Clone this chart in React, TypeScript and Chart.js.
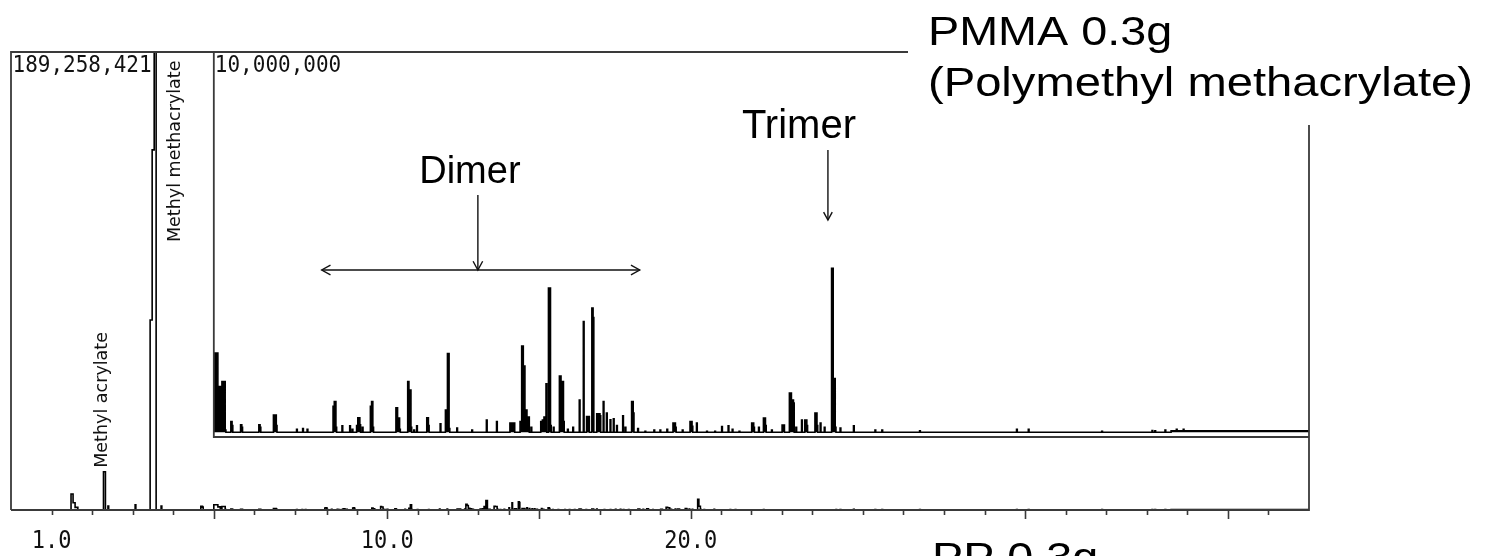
import React, { useEffect, useRef } from "react";
import { Chart, registerables } from "chart.js";

Chart.register(...registerables);

// ---------- data ----------
const FULL_SCALE = 189258421; // outer trace full scale (counts)
const INSET_SCALE = 10000000; // expanded trace full scale (counts)
const TIME_MIN = 0;
const TIME_MAX = 32;
const INSET_START = 5.0; // expanded view starts at 5.0 min

// the middle part of the bottom axis is a second, compressed time axis
const STRIP_AXIS_MIN = -2.403;
const STRIP_AXIS_MAX = 40.38;
const STRIP_FROM = 7.1; // min on the compressed axis
const STRIP_TO = 24.9;
const MAIN_LEFT_END = 7.1; // min on the main axis
const MAIN_RIGHT_START = 20.42;

// retention time (min) of every peak apex
const peakTimes = [
  1.48, 1.53, 1.58, 1.63, 2.28, 2.31, 2.39, 3.06, 3.43, 3.48, 3.53, 3.56, 3.7, 4.68, 4.72,
  5.0, 5.03, 5.06, 5.1, 5.13, 5.16, 5.2, 5.23, 5.28, 5.42, 5.45, 5.66, 5.69, 6.11, 6.14,
  6.47, 6.51, 6.54, 7.04, 7.19, 7.3, 7.94, 7.97, 8.01, 8.16, 8.35, 8.41, 8.52, 8.55, 8.6,
  8.66, 8.86, 8.89, 8.92, 9.49, 9.53, 9.58, 9.78, 9.81, 9.86, 9.93, 10.0, 10.25, 10.29,
  10.58, 10.71, 10.76, 10.8, 10.99, 11.36, 11.72, 11.97, 12.3, 12.35, 12.4, 12.55, 12.59,
  12.63, 12.67, 12.72, 12.76, 12.82, 13.06, 13.1, 13.14, 13.19, 13.25, 13.3, 13.37, 13.52,
  13.56, 13.62, 13.72, 13.85, 14.01, 14.11, 14.19, 14.24, 14.32, 14.35, 14.44, 14.48,
  14.52, 14.6, 14.68, 14.77, 14.85, 14.93, 15.08, 15.14, 15.3, 15.34, 15.45, 15.63, 15.85,
  16.0, 16.17, 16.32, 16.38, 16.55, 16.74, 16.79, 16.9, 17.15, 17.35, 17.52, 17.68, 17.78,
  17.95, 18.26, 18.31, 18.43, 18.55, 18.6, 18.75, 19.01, 19.05, 19.19, 19.24, 19.29,
  19.35, 19.49, 19.57, 19.62, 19.82, 19.87, 19.95, 20.05, 20.23, 20.27, 20.32, 20.44,
  20.77, 21.3, 21.47, 22.4, 24.79, 25.08, 26.89, 28.13, 28.2, 28.45, 28.73, 28.9,
];

// intensity (counts) at each apex
const peakCounts = [
  6600000, 3000000, 1100000, 1100000, 15800000, 15800000, 1600000, 2100000, 78500000,
  148800000, 189258421, 189258421, 1650000, 1500000, 1200000,
  2180000, 2180000, 2180000, 1310000, 1310000, 270000, 1440000, 1440000, 180000, 400000,
  300000, 320000, 250000, 320000, 250000, 570000, 570000, 300000, 200000, 220000, 200000,
  800000, 920000, 250000, 290000, 290000, 200000, 300000, 500000, 320000, 250000, 800000,
  920000, 250000, 760000, 490000, 200000, 1440000, 1220000, 250000, 180000, 290000, 500000,
  300000, 340000, 700000, 2170000, 220000, 230000, 180000, 440000, 400000, 360000, 360000,
  360000, 400000, 2360000, 1840000, 700000, 520000, 520000, 250000, 400000, 440000, 520000,
  1380000, 3870000, 300000, 250000, 1580000, 1440000, 400000, 200000, 250000, 960000,
  3000000, 530000, 530000, 3350000, 3100000, 600000, 600000, 550000, 920000, 620000,
  450000, 470000, 300000, 550000, 250000, 920000, 620000, 220000, 150000, 180000, 180000,
  200000, 360000, 250000, 180000, 400000, 280000, 360000, 150000, 150000, 270000, 290000,
  200000, 150000, 360000, 250000, 250000, 490000, 300000, 180000, 310000, 310000, 1140000,
  960000, 880000, 250000, 440000, 440000, 300000, 620000, 300000, 360000, 250000, 4380000,
  1520000, 250000, 230000, 290000, 180000, 180000, 160000, 200000, 200000, 150000, 170000,
  160000, 180000, 200000, 200000,
];

// detector baseline level (counts) from each time onwards
const baselineTimes = [0, 28.6];
const baselineCounts = [122000, 164000];

// time axis ticks (min) and printed labels
const mainTickTimes = [1, 2, 3, 4, 5, 6, 7, 21, 22, 23, 24, 25, 26, 27, 28, 29, 30, 31];
const stripTickTimes = [8, 9, 10, 11, 12, 13, 14, 15, 16, 17, 18, 19, 20, 21, 22, 23, 24];
const mainLabelTimes = [1];
const mainLabelTexts = ["1.0"];
const stripLabelTimes = [10, 20];
const stripLabelTexts = ["10.0", "20.0"];

// identified compounds
const compoundNames = ["Methyl acrylate", "Methyl methacrylate"];
const compoundTimes = [2.3, 3.55];

// annotated groups
const dimerRange = [7.66, 15.5];
const dimerArrowTime = 11.51;
const trimerTime = 20.14;

// ---------- helpers ----------
const PEAK_W = 0.018;
const JOIN_GAP = 0.06;
const INSET_FLOOR_FRACTION = 73 / 458; // part of the plot height below the expanded view

function baseAt(t: number): number {
  let b = baselineCounts[0];
  for (let i = 0; i < baselineTimes.length; i++) if (t >= baselineTimes[i]) b = baselineCounts[i];
  return b;
}

function buildTrace() {
  const order = peakTimes.map((_, i) => i).sort((a, b) => peakTimes[a] - peakTimes[b]);
  const pts: { x: number; y: number }[] = [{ x: TIME_MIN, y: baseAt(TIME_MIN) }];
  order.forEach((i, n) => {
    const t = peakTimes[i];
    pts.push({ x: t, y: peakCounts[i] });
    const next = n < order.length - 1 ? peakTimes[order[n + 1]] : Infinity;
    if (next - t > JOIN_GAP) pts.push({ x: t + PEAK_W, y: baseAt(t) });
  });
  for (let k = 1; k < baselineTimes.length; k++) pts.push({ x: baselineTimes[k], y: baselineCounts[k] });
  pts.push({ x: TIME_MAX, y: baseAt(TIME_MAX) });
  pts.sort((a, b) => a.x - b.x);
  return pts;
}

function window(trace: { x: number; y: number }[], from: number, to: number) {
  const inside = trace.filter((p) => p.x > from && p.x < to);
  return [{ x: from, y: baseAt(from) }, ...inside, { x: to, y: baseAt(to) }];
}

function arrowHead(ctx: CanvasRenderingContext2D, x: number, y: number, ang: number, len: number) {
  ctx.beginPath();
  ctx.moveTo(x - len * Math.cos(ang - 0.5), y - len * Math.sin(ang - 0.5));
  ctx.lineTo(x, y);
  ctx.lineTo(x - len * Math.cos(ang + 0.5), y - len * Math.sin(ang + 0.5));
  ctx.stroke();
}

function wideText(ctx: CanvasRenderingContext2D, text: string, x: number, y: number, sx: number) {
  ctx.save();
  ctx.translate(x, y);
  ctx.scale(sx, 1);
  ctx.fillText(text, 0, 0);
  ctx.restore();
}

const decorPlugin = {
  id: "decor",
  afterDatasetsDraw(chart: any) {
    const { ctx, chartArea } = chart;
    const xs = chart.scales.x;
    const xc = chart.scales.xc;
    const ys = chart.scales.y;
    const y2 = chart.scales.y2;
    const L = chartArea.left, T = chartArea.top, R = chartArea.right, B = chartArea.bottom;
    ctx.save();

    // frames
    ctx.strokeStyle = "#3a3a3a";
    ctx.lineWidth = 1.8;
    ctx.beginPath();
    ctx.moveTo(L, B);
    ctx.lineTo(L, T);
    ctx.lineTo(R, T);
    ctx.lineTo(R, B);
    ctx.lineTo(L, B);
    ctx.stroke();
    const ix = xs.getPixelForValue(INSET_START);
    const iy = y2.getPixelForValue(0);
    ctx.beginPath();
    ctx.moveTo(ix, T);
    ctx.lineTo(ix, iy);
    ctx.lineTo(R, iy);
    ctx.stroke();

    // ticks
    ctx.lineWidth = 1.6;
    const drawTicks = (scale: any, times: number[]) =>
      times.forEach((t) => {
        const px = Math.round(scale.getPixelForValue(t)) + 0.5;
        const len = t % 5 === 0 ? 9 : 5;
        ctx.beginPath();
        ctx.moveTo(px, B);
        ctx.lineTo(px, B + len);
        ctx.stroke();
      });
    drawTicks(xs, mainTickTimes);
    drawTicks(xc, stripTickTimes);

    // tick labels
    ctx.fillStyle = "#111";
    ctx.font = '22px "DejaVu Sans Mono"';
    ctx.textAlign = "center";
    ctx.textBaseline = "alphabetic";
    const drawLabels = (scale: any, times: number[], texts: string[]) =>
      times.forEach((t, i) => {
        ctx.save();
        ctx.translate(scale.getPixelForValue(t), B + 38);
        ctx.scale(1, 1.12);
        ctx.fillText(texts[i], 0, 0);
        ctx.restore();
      });
    drawLabels(xs, mainLabelTimes, mainLabelTexts);
    drawLabels(xc, stripLabelTimes, stripLabelTexts);

    // full-scale labels
    ctx.font = '21px "DejaVu Sans Mono"';
    ctx.textAlign = "left";
    [[L + 1.5, FULL_SCALE], [ix + 1, INSET_SCALE]].forEach(([px, v]) => {
      ctx.save();
      ctx.translate(px, T + 19.5);
      ctx.scale(1, 1.1);
      ctx.fillText(v.toLocaleString("en-US"), 0, 0);
      ctx.restore();
    });

    // compound names (rotated)
    ctx.font = '17.5px "DejaVu Sans"';
    compoundNames.forEach((name, i) => {
      const t = compoundTimes[i];
      const idx = peakTimes.findIndex((p) => p >= t);
      const h = Math.max(peakCounts[idx], peakCounts[idx - 1] || 0);
      const px = xs.getPixelForValue(t);
      let bx: number, by: number;
      if (h >= FULL_SCALE * 0.99) {
        bx = px + 25;
        by = T + 190;
      } else {
        bx = px + 3;
        by = ys.getPixelForValue(h) - 4;
      }
      ctx.save();
      ctx.translate(bx, by);
      ctx.rotate(-Math.PI / 2);
      ctx.fillText(name, 0, 0);
      ctx.restore();
    });

    // Dimer / Trimer annotations
    ctx.strokeStyle = "#111";
    ctx.lineWidth = 1.4;
    const d0 = xs.getPixelForValue(dimerRange[0]);
    const d1 = xs.getPixelForValue(dimerRange[1]);
    const dy = T + 218;
    ctx.beginPath();
    ctx.moveTo(d0, dy);
    ctx.lineTo(d1, dy);
    ctx.stroke();
    arrowHead(ctx, d0, dy, Math.PI, 10);
    arrowHead(ctx, d1, dy, 0, 10);
    const da = xs.getPixelForValue(dimerArrowTime);
    ctx.beginPath();
    ctx.moveTo(da, T + 143);
    ctx.lineTo(da, dy);
    ctx.stroke();
    arrowHead(ctx, da, dy, Math.PI / 2, 10);
    const ta = xs.getPixelForValue(trimerTime);
    ctx.beginPath();
    ctx.moveTo(ta, T + 98);
    ctx.lineTo(ta, T + 168);
    ctx.stroke();
    arrowHead(ctx, ta, T + 168, Math.PI / 2, 9);

    ctx.fillStyle = "#000";
    ctx.font = '38px "Liberation Sans"';
    ctx.textAlign = "center";
    ctx.fillText("Dimer", da - 8, T + 131);
    ctx.font = '40px "Liberation Sans"';
    ctx.fillText("Trimer", ta - 29, T + 86);

    // sample caption box
    ctx.fillStyle = "#fff";
    ctx.fillRect(908, 0, chart.width - 908, 125);
    ctx.fillStyle = "#000";
    ctx.textAlign = "left";
    ctx.font = '41px "Liberation Sans"';
    wideText(ctx, "PMMA 0.3g", 928, 45, 1.14);
    wideText(ctx, "(Polymethyl methacrylate)", 928, 96, 1.15);
    wideText(ctx, "PP 0.3g", 932, 571, 1.14);
    ctx.restore();
  },
};

export default function App() {
  const ref = useRef<HTMLCanvasElement | null>(null);
  useEffect(() => {
    document.body.style.margin = "0";
    const trace = buildTrace();
    const insetTrace = trace.filter((p) => p.x >= INSET_START);
    const leftTrace = window(trace, TIME_MIN, MAIN_LEFT_END);
    const rightTrace = window(trace, MAIN_RIGHT_START, TIME_MAX);
    const stripTrace = window(trace, STRIP_FROM, STRIP_TO);
    const y2Min = (-INSET_SCALE * INSET_FLOOR_FRACTION) / (1 - INSET_FLOOR_FRACTION);
    const line = { borderColor: "#000", borderWidth: 1.6, pointRadius: 0, stepped: true, fill: false };
    const chart = new Chart(ref.current as HTMLCanvasElement, {
      type: "line",
      data: {
        datasets: [
          { label: "PMMA TIC", data: leftTrace, xAxisID: "x", yAxisID: "y", ...line },
          { label: "PMMA TIC (late)", data: rightTrace, xAxisID: "x", yAxisID: "y", ...line },
          { label: "PMMA TIC (compressed)", data: stripTrace, xAxisID: "xc", yAxisID: "y", ...line },
          {
            label: "PMMA TIC expanded",
            data: insetTrace,
            xAxisID: "x",
            yAxisID: "y2",
            ...line,
            fill: { value: baselineCounts[0] },
            backgroundColor: "#000",
          },
        ],
      },
      options: {
        responsive: false,
        animation: false,
        events: [],
        layout: { padding: { left: 11, top: 52, right: 180, bottom: 46 } },
        plugins: { legend: { display: false }, tooltip: { enabled: false } },
        scales: {
          x: { type: "linear", min: TIME_MIN, max: TIME_MAX, display: false },
          xc: { type: "linear", min: STRIP_AXIS_MIN, max: STRIP_AXIS_MAX, display: false },
          y: { type: "linear", min: 0, max: FULL_SCALE, display: false },
          y2: { type: "linear", min: y2Min, max: INSET_SCALE, display: false },
        },
      },
      plugins: [decorPlugin],
    });
    return () => chart.destroy();
  }, []);
  return (
    <div style={{ width: 1489, height: 556, background: "#fff" }}>
      <canvas ref={ref} width={1489} height={556} style={{ display: "block" }} />
    </div>
  );
}
